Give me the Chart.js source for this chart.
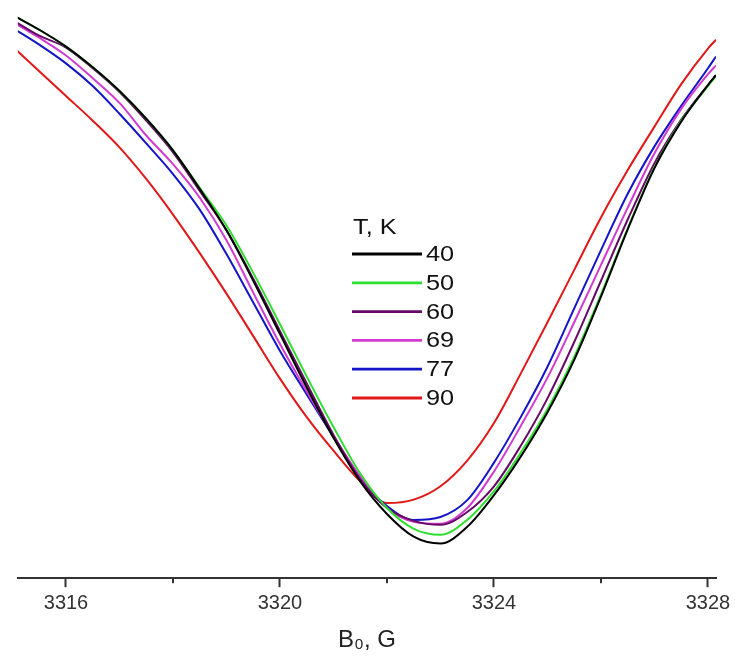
<!DOCTYPE html>
<html><head><meta charset="utf-8">
<script src="https://cdn.jsdelivr.net/npm/chart.js@4"></script>
<style>html,body{margin:0;padding:0;background:#fff}</style>
</head><body>
<canvas id="c" width="735" height="667"></canvas>
<script>
// Magnetic field B0 (G)
const fieldB = [3315.0, 3315.5, 3316.0, 3316.5, 3317.0, 3317.5, 3318.0, 3318.5, 3319.0, 3319.5,
                3320.0, 3320.5, 3321.0, 3321.5, 3322.0, 3322.5, 3323.0, 3323.5, 3324.0, 3324.5,
                3325.0, 3325.5, 3326.0, 3326.5, 3327.0, 3327.5, 3328.0, 3328.15];
// Temperatures (K)
const temps = ['40', '50', '60', '69', '77', '90'];
const legendTitle = 'T, K';
const xTitle = 'B\u2080, G';
const xTickValues = [3316, 3318, 3320, 3322, 3324, 3326, 3328];

// Signal (arbitrary units) per temperature
const s40 = [114, 111, 107.6, 103.4, 98.6, 93, 86.6, 78.8, 70.4, 60.2, 49.4, 38.6, 28.4, 19.6, 13, 8.4, 7, 10.4, 16.8, 24.6, 33.6, 44.2, 57, 70.6, 83, 92.4, 99.8, 101.8];
const s50 = [114, 111, 107.6, 103.4, 98.6, 93, 86.6, 79, 71.4, 61.8, 51.4, 40.8, 30.6, 21.2, 14.2, 10, 8.8, 11.8, 17.6, 25.4, 34.2, 44.8, 57.4, 70.8, 83.2, 92.6, 99.6, 101.6];
const s60 = [113, 109.8, 107.4, 103.2, 98.4, 92.6, 86.2, 78.4, 70.4, 60.6, 50, 39.4, 29, 20, 14.2, 11.6, 10.8, 13.4, 18.6, 26.8, 36.4, 47.8, 60.2, 72.6, 84, 92.8, 99.8, 101.8];
const s69 = [112.6, 109.4, 105.8, 101.2, 96.2, 89.6, 83.8, 77, 68.4, 57.8, 47.4, 37.8, 28.8, 20.6, 14.2, 11.4, 11, 14.2, 21.6, 30.8, 40.6, 51.8, 63.4, 75, 86, 95, 102, 103.8];
const s77 = [111.4, 108, 104.2, 99.6, 94, 88, 81.8, 74.6, 65.6, 55.8, 46, 37.2, 28.6, 20.2, 14.6, 11.8, 12.4, 15.8, 23.4, 32.6, 42.8, 54.6, 66.4, 77.8, 87.4, 95.6, 103.2, 105.6];
const s90 = [107.6, 102.6, 97.6, 92.6, 87.2, 80.8, 73.6, 65.8, 57.6, 49, 40.4, 32.6, 25.8, 19.6, 15.2, 15.9, 18.6, 23.8, 31.4, 41.4, 51.8, 62.4, 73, 82.6, 91.4, 100, 107.2, 109];

const seriesList = [s40, s50, s60, s69, s77, s90];
const colors = ['#000000', '#2ee02e', '#650a65', '#d23ad2', '#1414c8', '#e01818'];

const datasets = seriesList.map((vals, i) => ({
  label: temps[i],
  data: vals.map((v, j) => ({ x: fieldB[j], y: v })),
  borderColor: colors[i],
  backgroundColor: colors[i],
  borderWidth: 2,
  pointRadius: 0,
  fill: false,
  cubicInterpolationMode: 'monotone'
}));

const FONT = '"Liberation Sans", Arial, "DejaVu Sans", sans-serif';

function stretchedText(ctx, text, x, y, sx) {
  ctx.save();
  ctx.translate(x, y);
  ctx.scale(sx, 1);
  ctx.fillText(text, 0, 0);
  ctx.restore();
}

const extras = {
  id: 'extras',
  afterDraw(chart) {
    const ctx = chart.ctx;
    const sx = chart.scales.x;
    ctx.save();
    // minor ticks
    ctx.strokeStyle = '#333';
    ctx.lineWidth = 2;
    xTickValues.forEach(v => {
      if (v % 4 !== 0) {
        const px = sx.getPixelForValue(v);
        ctx.beginPath();
        ctx.moveTo(px, sx.top);
        ctx.lineTo(px, sx.top + 5);
        ctx.stroke();
      }
    });
    // legend
    const lx = 352, ly = 254, step = 28.8, len = 70;
    ctx.fillStyle = '#111';
    ctx.font = '22px ' + FONT;
    ctx.textBaseline = 'middle';
    ctx.textAlign = 'left';
    stretchedText(ctx, legendTitle, lx + 1, ly - 26, 1.15);
    chart.data.datasets.forEach((d, i) => {
      const y = ly + i * step;
      ctx.strokeStyle = d.borderColor;
      ctx.lineWidth = 2.8;
      ctx.beginPath();
      ctx.moveTo(lx, y);
      ctx.lineTo(lx + len, y);
      ctx.stroke();
      ctx.fillStyle = '#111';
      stretchedText(ctx, d.label, lx + len + 4, y + 1, 1.15);
    });
    ctx.restore();
  }
};

new Chart(document.getElementById('c'), {
  type: 'line',
  data: { datasets },
  options: {
    responsive: false,
    animation: false,
    devicePixelRatio: 1,
    layout: { padding: { left: 17.85, right: 19, top: 10, bottom: 8 } },
    plugins: { legend: { display: false }, tooltip: { enabled: false } },
    scales: {
      x: {
        type: 'linear',
        min: 3315.1,
        max: 3328.15,
        afterBuildTicks: (scale) => { scale.ticks = xTickValues.map(v => ({ value: v })); },
        ticks: {
          autoSkip: false,
          maxRotation: 0,
          padding: 4,
          color: '#333',
          font: { family: FONT, size: 20 },
          callback: (v) => (v % 4 === 0 ? String(v) : '')
        },
        grid: {
          display: true,
          drawOnChartArea: false,
          drawTicks: true,
          tickLength: 9,
          tickWidth: 2,
          tickColor: (c) => (c.tick && c.tick.value % 4 === 0 ? '#333' : 'rgba(0,0,0,0)')
        },
        border: { display: true, color: '#333', width: 2 },
        title: {
          display: true,
          text: xTitle,
          color: '#222',
          font: { family: FONT, size: 24 },
          padding: { top: 7, bottom: 4 }
        }
      },
      y: { display: false, min: 0, max: 115 }
    }
  },
  plugins: [extras]
});
</script>
</body></html>
